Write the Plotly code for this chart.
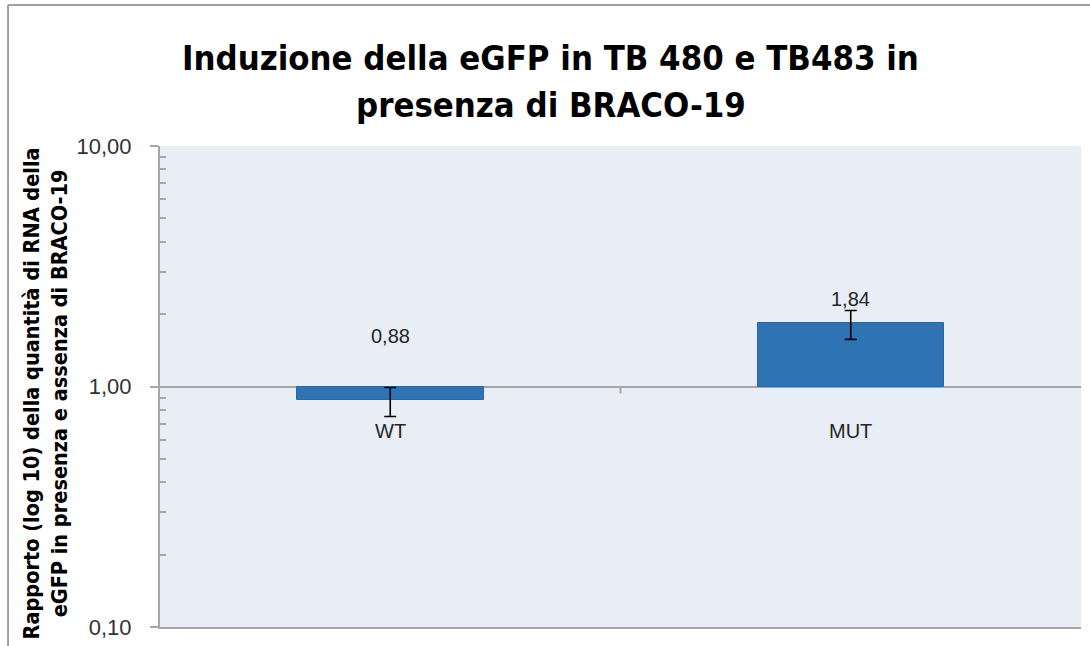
import math
import plotly.graph_objects as go

# Ratio of eGFP RNA with/without BRACO-19 (log scale, bars start at 1)
categories = ["WT", "MUT"]
values = [0.88, 1.84]
err_plus = [0.11, 0.23]
err_minus = [0.13, 0.27]

tick_vals = [0.1, 1, 10]
tick_text = ["0,10", "1,00", "10,00"]

title_lines = ["Induzione della eGFP in TB 480 e TB483 in", "presenza di BRACO-19"]
ytitle_text = ("Rapporto (log 10) della quantità di RNA della<br>"
               "eGFP in presenza e assenza di BRACO-19")

bar_color = "#2E74B5"
grid_color = "#A6A6A6"
font_fam = "Liberation Sans Narrow, DejaVu Sans Condensed, Arial Narrow, sans-serif"
tick_font = "Liberation Sans, Arial, sans-serif"

baseline = 1.0
y_range = [-1, 1]  # log10 of 0.1 .. 10


def paper_y(v):
    return (math.log10(v) - y_range[0]) / (y_range[1] - y_range[0])


fig = go.Figure()
fig.add_trace(go.Bar(
    x=categories,
    y=[v - baseline for v in values],
    base=[baseline] * len(values),
    marker=dict(color=bar_color, line=dict(color="#2A68A3", width=1)),
    width=0.405,
    showlegend=False,
    hoverinfo="skip",
))
fig.add_trace(go.Scatter(
    x=categories,
    y=values,
    mode="markers",
    marker=dict(opacity=0, size=1),
    error_y=dict(type="data", symmetric=False, array=err_plus,
                 arrayminus=err_minus, color="black", thickness=1.6, width=6),
    showlegend=False,
    hoverinfo="skip",
))

# value labels
label_shift = [64, 24]
for c, v, s in zip(categories, values, label_shift):
    fig.add_annotation(x=c, y=math.log10(v), yref="y",
                       text=f"{v:.2f}".replace(".", ","),
                       showarrow=False, yshift=s, yanchor="middle",
                       font=dict(family=tick_font, size=20, color="#262626"))
# category labels under the crossing line at 1,00
for c in categories:
    fig.add_annotation(x=c, y=math.log10(baseline), yref="y", text=c,
                       showarrow=False, yshift=-44, yanchor="middle",
                       font=dict(family=tick_font, size=20, color="#262626"))

# chart title, two lines
for line, yp in zip(title_lines, [1.182, 1.086]):
    fig.add_annotation(xref="paper", yref="paper", x=0.4245, y=yp,
                       text="<b>" + line + "</b>", showarrow=False,
                       xanchor="center", yanchor="middle",
                       font=dict(family=font_fam, size=34.4, color="black"))

# y axis title
fig.add_annotation(xref="paper", yref="paper", x=-0.124, y=0.485,
                   text="<b>" + ytitle_text + "</b>", textangle=-90,
                   showarrow=False, xanchor="center", yanchor="middle",
                   font=dict(family=font_fam, size=21.5, color="black"))

# small tick on the category axis where it crosses 1,00
yb = paper_y(baseline)
fig.add_shape(type="line", xref="x", yref="paper", x0=0.5, x1=0.5,
              y0=yb, y1=yb - 7 / 481, line=dict(color=grid_color, width=2))

# outer chart border (left and top edges)
fig.add_shape(type="line", xref="paper", yref="paper", x0=-0.165, x1=-0.165,
              y0=-0.1, y1=1.293, line=dict(color="#A0A0A0", width=2))
fig.add_shape(type="line", xref="paper", yref="paper", x0=-0.165, x1=1.1,
              y0=1.293, y1=1.293, line=dict(color="#A0A0A0", width=2))

fig.update_layout(
    width=1090, height=646,
    margin=dict(l=160, r=9, t=146, b=19),
    paper_bgcolor="white",
    plot_bgcolor="#E9EDF6",
    xaxis=dict(range=[-0.5, 1.5], showticklabels=False, ticks="",
               showgrid=False, zeroline=False, showline=True,
               linecolor=grid_color, linewidth=2, fixedrange=True,
               automargin=False),
    yaxis=dict(type="log", range=y_range, tickvals=tick_vals,
               ticktext=tick_text, ticks="outside", ticklen=8,
               tickcolor=grid_color, tickwidth=2, ticklabelstandoff=14,
               showgrid=True, gridcolor=grid_color, gridwidth=2,
               showline=True, linecolor=grid_color, linewidth=2,
               zeroline=False, automargin=False,
               tickfont=dict(family=tick_font, size=22, color="#333333"),
               minor=dict(tickvals=[k * 10 ** e for e in (-1, 0) for k in range(2, 10)],
                          ticks="inside", ticklen=6, tickcolor=grid_color,
                          tickwidth=1.5, showgrid=False)),
    bargap=0,
)

fig.write_html("out.html")
